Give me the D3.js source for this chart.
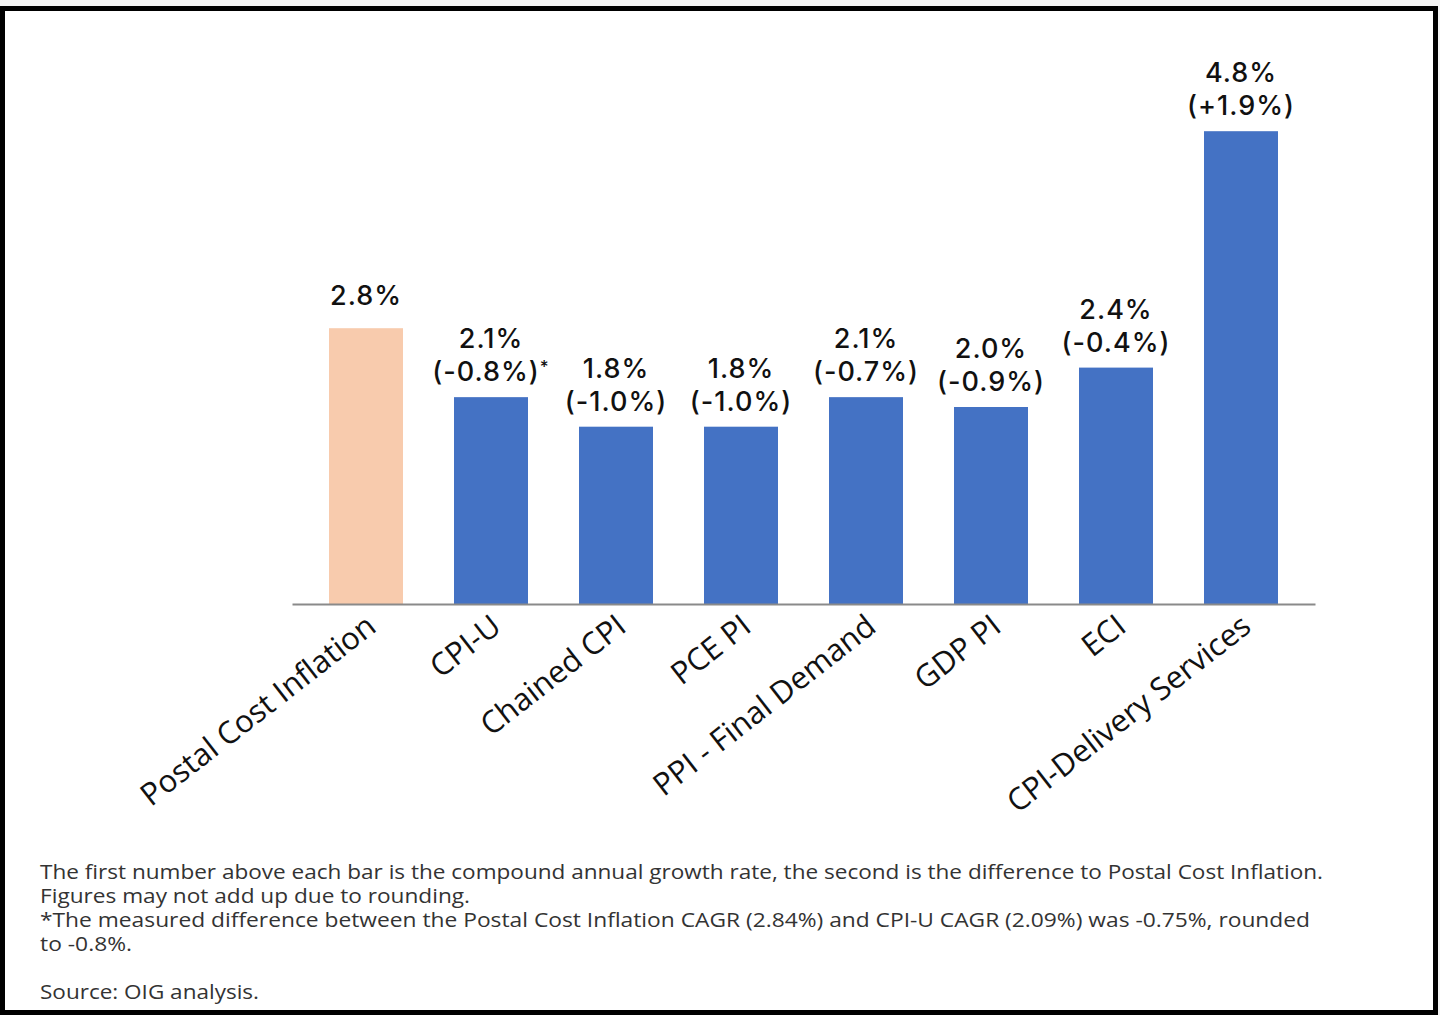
<!DOCTYPE html>
<html>
<head>
<meta charset="utf-8">
<script src="https://cdn.jsdelivr.net/npm/d3@7"></script>
<style>
  html, body { margin: 0; padding: 0; background: #f4f4f4; }
  svg { display: block; }
</style>
</head>
<body>
<script>
// Compound annual growth rates by price index, with difference to Postal Cost Inflation
const categories = ["Postal Cost Inflation", "CPI-U", "Chained CPI", "PCE PI",
                    "PPI - Final Demand", "GDP PI", "ECI", "CPI-Delivery Services"];
const cagr = [2.8, 2.1, 1.8, 1.8, 2.1, 2.0, 2.4, 4.8];
const diffToPostal = [null, -0.8, -1.0, -1.0, -0.7, -0.9, -0.4, 1.9];
const markedCategory = "CPI-U";
const notes = [
  "The first number above each bar is the compound annual growth rate, the second is the difference to Postal Cost Inflation.",
  "Figures may not add up due to rounding.",
  "*The measured difference between the Postal Cost Inflation CAGR (2.84%) and CPI-U CAGR (2.09%) was -0.75%, rounded",
  "to -0.8%.",
  "",
  "Source: OIG analysis."
];

const W = 1440, H = 1015;
const svg = d3.select("body").append("svg").attr("width", W).attr("height", H);

// white panel with thick black frame
svg.append("rect")
  .attr("x", 2.5).attr("y", 8.5).attr("width", 1433).attr("height", 1004)
  .attr("fill", "#fff").attr("stroke", "#000").attr("stroke-width", 5);

const x = d3.scaleBand().domain(categories).range([292, 1315])
  .paddingInner(0.408).paddingOuter(0.296);
const y = d3.scaleLinear().domain([0, 5]).range([604, 111.5]);

const rows = categories.map((c, i) => ({ cat: c, v: cagr[i], d: diffToPostal[i] }));

// bars
svg.append("g").selectAll("rect").data(rows).join("rect")
  .attr("x", d => x(d.cat))
  .attr("y", d => y(d.v))
  .attr("width", x.bandwidth())
  .attr("height", d => y(0) - y(d.v))
  .attr("fill", (d, i) => i === 0 ? "#F8CBAD" : "#4472C4");

// category axis with slanted labels
const axis = svg.append("g").attr("transform", `translate(0,${y(0)})`)
  .call(d3.axisBottom(x).tickSize(0).tickSizeOuter(0));
axis.attr("font-family", null).attr("font-size", null);
axis.select(".domain").attr("stroke", "#8a8a8a").attr("stroke-width", 2);
axis.selectAll(".tick text")
  .style("font-family", "'Open Sans', sans-serif")
  .style("font-weight", 500)
  .style("font-size", "31px")
  .attr("fill", "#111")
  .attr("text-anchor", "end")
  .attr("x", 0).attr("y", 0).attr("dy", 0)
  .attr("transform", "translate(12,26) rotate(-38)");

// value labels
const fmt = v => v.toFixed(1) + "%";
const fmtDiff = v => "(" + (v > 0 ? "+" : "-") + Math.abs(v).toFixed(1) + "%)";
const labels = svg.append("g")
  .attr("font-family", "Inter, sans-serif")
  .attr("font-weight", 500)
  .attr("font-size", 27)
  .attr("letter-spacing", 1)
  .attr("fill", "#111")
  .attr("text-anchor", "middle");

rows.forEach(d => {
  const cx = x(d.cat) + x.bandwidth() / 2;
  const top = y(d.v);
  if (d.d === null) {
    labels.append("text").attr("x", cx).attr("y", top - 23).text(fmt(d.v));
  } else {
    labels.append("text").attr("x", cx).attr("y", top - 49).text(fmt(d.v));
    const t = labels.append("text").attr("x", cx).attr("y", top - 16);
    t.append("tspan").text(fmtDiff(d.d));
    if (d.cat === markedCategory) {
      t.append("tspan").attr("font-size", 17).attr("dy", -8).text("*");
    }
  }
});

// footnotes
const foot = svg.append("g")
  .attr("font-family", "Open Sans, sans-serif")
  .attr("font-size", 20)
  .attr("fill", "#333");
const lineWidths = [1283, 430, 1270, 92, 0, 219];
notes.forEach((n, i) => {
  if (!n) return;
  foot.append("text")
    .attr("x", 40).attr("y", 879 + i * 24)
    .attr("textLength", lineWidths[i])
    .attr("lengthAdjust", "spacingAndGlyphs")
    .text(n);
});
</script>
</body>
</html>
